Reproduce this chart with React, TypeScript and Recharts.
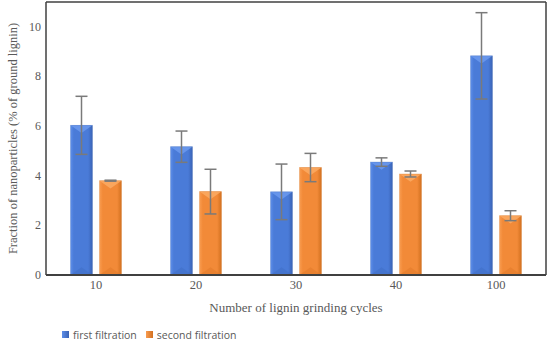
import React from 'react';
import { BarChart, Bar, XAxis, YAxis, ErrorBar, Legend, ReferenceLine, Label } from 'recharts';

const categories = ['10', '20', '30', '40', '100'];
const firstFiltration = [6.03, 5.17, 3.35, 4.55, 8.83];
const firstErr = [1.17, 0.63, 1.12, 0.17, 1.74];
const secondFiltration = [3.8, 3.36, 4.33, 4.07, 2.39];
const secondErr = [0.02, 0.9, 0.57, 0.12, 0.2];
const yTicks = [0, 2, 4, 6, 8, 10];

const data = categories.map((c, i) => ({
  cat: c,
  first: firstFiltration[i],
  firstErr: firstErr[i],
  second: secondFiltration[i],
  secondErr: secondErr[i],
}));

const palettes: Record<string, { left: string; mid: string; right: string; top: string; bottom: string }> = {
  blue: { left: '#5d8ee9', mid: '#4a7bd8', right: '#3a63b5', top: '#6e9cf0', bottom: '#4170c8' },
  orange: { left: '#f99c50', mid: '#f28a38', right: '#d2701f', top: '#fbac66', bottom: '#e27c2c' },
};

const serif = '"Liberation Serif", "Times New Roman", serif';
const textGrey = '#595959';

let uid = 0;
const BevelBar = (kind: string) => (props: any) => {
  const { x, y, width, height } = props;
  if (height == null || height <= 0) return null;
  const p = palettes[kind];
  const id = `g-${kind}-${uid++}`;
  const d = Math.min(width * 0.35, height / 2);
  return (
    <g>
      <defs>
        <linearGradient id={id} x1="0" y1="0" x2="1" y2="0">
          <stop offset="0" stopColor={p.left} />
          <stop offset="0.15" stopColor={p.mid} />
          <stop offset="0.8" stopColor={p.mid} />
          <stop offset="1" stopColor={p.right} />
        </linearGradient>
      </defs>
      <rect x={x} y={y} width={width} height={height} fill={`url(#${id})`} />
      <polygon points={`${x},${y} ${x + width},${y} ${x + width / 2},${y + d}`} fill={p.top} opacity={0.8} />
      <polygon
        points={`${x},${y + height} ${x + width},${y + height} ${x + width / 2},${y + height - d}`}
        fill={p.bottom}
        opacity={0.6}
      />
      <rect x={x} y={y} width={width} height={height} fill="none" stroke={p.right} strokeOpacity={0.35} strokeWidth={0.8} />
    </g>
  );
};

const XTick = (props: any) => {
  const { x, y, payload } = props;
  return (
    <text x={x} y={y + 14} textAnchor="middle" fontFamily={serif} fontSize={12.5} fill={textGrey}>
      {payload.value}
    </text>
  );
};

const YTick = (props: any) => {
  const { x, y, payload } = props;
  return (
    <text x={x} y={y + 4} textAnchor="end" fontFamily={serif} fontSize={12} fill={textGrey}>
      {payload.value}
    </text>
  );
};

const LegendContent = () => (
  <div
    style={{
      display: 'flex',
      alignItems: 'center',
      paddingLeft: 62,
      paddingTop: 5,
      fontFamily: '"Open Sans", "Noto Sans", sans-serif',
      fontSize: 10.5,
      color: textGrey,
      height: 15,
    }}
  >
    <span style={{ display: 'inline-block', width: 7, height: 7, background: 'linear-gradient(90deg,#5d8ee9,#3a63b5)', marginRight: 4 }} />
    <span style={{ marginRight: 9 }}>first filtration</span>
    <span style={{ display: 'inline-block', width: 7, height: 7, background: 'linear-gradient(90deg,#f99c50,#d2701f)', marginRight: 4 }} />
    <span>second filtration</span>
  </div>
);

const YTitle = (props: any) => {
  const vb = props.viewBox || {};
  const cx = 13;
  const cy = vb.y + vb.height / 2;
  return (
    <text
      x={cx}
      y={cy}
      transform={`rotate(-90 ${cx} ${cy})`}
      textAnchor="middle"
      dominantBaseline="central"
      fontFamily={serif}
      fontSize={12.5}
      fill={textGrey}
    >
      Fraction of nanoparticles (% of ground lignin)
    </text>
  );
};

export default function App() {
  return (
    <div style={{ position: 'absolute', left: 0, top: 0, width: 550, height: 342, background: '#fff' }}>
      <BarChart
        width={550}
        height={342}
        data={data}
        margin={{ top: 2, right: 0, left: 0, bottom: 0 }}
        barGap={7}
        barCategoryGap="24.5%"
      >
        <XAxis
          dataKey="cat"
          axisLine={{ stroke: '#404040', strokeWidth: 2 }}
          tickLine={false}
          tickSize={0}
          tickMargin={0}
          height={47}
          tick={<XTick />}
        >
          <Label
            value="Number of lignin grinding cycles"
            position="insideBottom"
            offset={10}
            style={{ fill: textGrey, fontFamily: serif, fontSize: 13 }}
          />
        </XAxis>
        <YAxis
          domain={[0, 11]}
          ticks={yTicks}
          width={46}
          axisLine={{ stroke: '#404040', strokeWidth: 1.5 }}
          tickLine={false}
          tickSize={0}
          tickMargin={5}
          tick={<YTick />}
          label={<YTitle />}
        />
        <YAxis
          yAxisId="right"
          orientation="right"
          domain={[0, 11]}
          width={4}
          tick={false}
          tickLine={false}
          axisLine={{ stroke: '#404040', strokeWidth: 1.5 }}
        />
        <ReferenceLine y={11} stroke="#404040" strokeWidth={1.5} />
        <Legend verticalAlign="bottom" align="left" height={20} content={<LegendContent />} />
        <Bar dataKey="first" name="first filtration" fill="#4a7bd8" shape={BevelBar('blue')} isAnimationActive={false}>
          <ErrorBar dataKey="firstErr" width={6} stroke="#7a7a7a" strokeWidth={1.5} />
        </Bar>
        <Bar dataKey="second" name="second filtration" fill="#f28a38" shape={BevelBar('orange')} isAnimationActive={false}>
          <ErrorBar dataKey="secondErr" width={6} stroke="#7a7a7a" strokeWidth={1.5} />
        </Bar>
      </BarChart>
    </div>
  );
}
